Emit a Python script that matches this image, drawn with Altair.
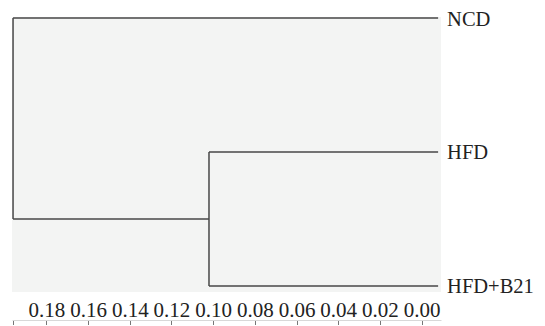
import altair as alt
import pandas as pd

# Leaves (top to bottom) and merge heights of the dendrogram
leaves = ["NCD", "HFD", "HFD+B21"]
leaf_order = [0, 1, 2]
# merges: (child A, child B, height) ; children are leaf names or merge ids
merge_a = ["HFD", "m0"]
merge_b = ["HFD+B21", "NCD"]
merge_h = [0.102, 0.196]
tick_values = [0.196, 0.18, 0.16, 0.14, 0.12, 0.10, 0.08, 0.06, 0.04, 0.02, 0.00]

# build node positions and segments
pos = {name: (0.0, float(o)) for name, o in zip(leaves, leaf_order)}
leaf_segs, inner_segs = [], []
for i, (a, b, h) in enumerate(zip(merge_a, merge_b, merge_h)):
    for c in (a, b):
        xc, yc = pos[c]
        (leaf_segs if c in leaves else inner_segs).append(dict(x=xc, x2=h, y=yc, y2=yc))
    xa, ya = pos[a]
    xb, yb = pos[b]
    inner_segs.append(dict(x=h, x2=h, y=ya, y2=yb))
    pos[f"m{i}"] = (h, (ya + yb) / 2)
leaf_df = pd.DataFrame(leaf_segs)
inner_df = pd.DataFrame(inner_segs)
lab_df = pd.DataFrame({"name": leaves, "x": [0.0] * len(leaves), "y": leaf_order})

xscale = alt.Scale(domain=[0.1965, -0.0093], nice=False, zero=False)
yscale = alt.Scale(domain=[2.045, -0.0075], nice=False, zero=False)

line_color = "#474747"

inner = alt.Chart(inner_df).mark_rule(color=line_color, strokeWidth=1.5).encode(
    x=alt.X("x:Q", scale=xscale, title=None,
            axis=alt.Axis(values=tick_values, grid=False, offset=28,
                          labelExpr="datum.value > 0.19 ? '' : format(datum.value, '.2f')",
                          labelFont="Liberation Serif", labelFontSize=21, labelColor="#222222",
                          labelBaseline="alphabetic", labelPadding=-12, tickSize=8,
                          tickColor="#777777", domainColor="#d8d8d8", labelFlush=False,
                          labelOverlap=False)),
    x2="x2:Q",
    y=alt.Y("y:Q", scale=yscale, axis=None),
    y2="y2:Q",
)

leaf_lines = alt.Chart(leaf_df).mark_rule(color=line_color, strokeWidth=1.5, xOffset=16.5).encode(
    x=alt.X("x:Q", scale=xscale),
    x2="x2:Q",
    y=alt.Y("y:Q", scale=yscale),
    y2="y2:Q",
)

labels = alt.Chart(lab_df).mark_text(
    align="left", baseline="middle", dx=25.5, dy=1.5, font="Liberation Serif", fontSize=20.5,
    color="#222222"
).encode(
    x=alt.X("x:Q", scale=xscale),
    y=alt.Y("y:Q", scale=yscale),
    text="name:N",
)

chart = (inner + leaf_lines + labels).properties(
    width=429, height=275,
    autosize=alt.AutoSizeParams(type="none"),
    padding={"left": 4, "top": 9, "right": 96, "bottom": 33},
    background="white",
).configure_view(fill="#f3f4f3", stroke=None)

chart.save("out.html", embed_options={"renderer": "svg", "actions": False})
